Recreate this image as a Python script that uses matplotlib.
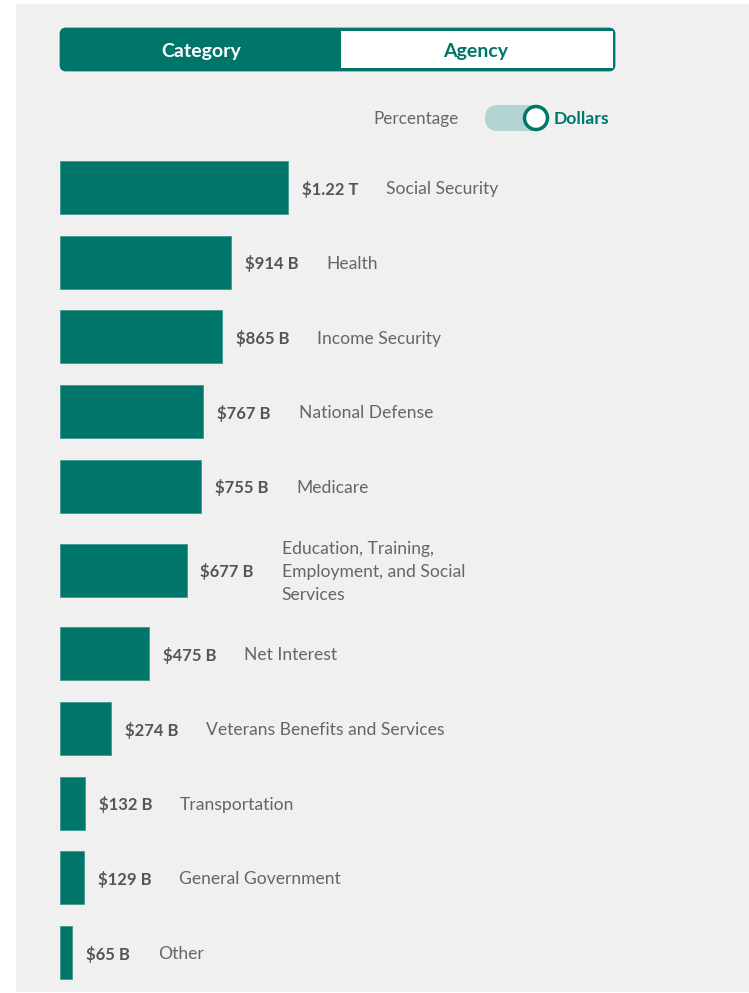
import matplotlib.pyplot as plt
from matplotlib.patches import FancyBboxPatch, Rectangle, Circle

# Gasto federal por categoria (miles de millones de dolares)
categorias = ["Social Security", "Health", "Income Security", "National Defense", "Medicare",
              "Education, Training,\nEmployment, and Social\nServices", "Net Interest",
              "Veterans Benefits and Services", "Transportation", "General Government", "Other"]
montos = [1220, 914, 865, 767, 755, 677, 475, 274, 132, 129, 65]
etiquetas = ["$1.22 T", "$914 B", "$865 B", "$767 B", "$755 B", "$677 B",
             "$475 B", "$274 B", "$132 B", "$129 B", "$65 B"]

VERDE = "#00766b"
GRIS_FONDO = "#f0f0f0"
FUENTE = "Lato"
W, H = 749, 993

fig = plt.figure(figsize=(W / 100, H / 100), dpi=100)
fig.patch.set_facecolor("white")

# Ejes de fondo en pixeles (y hacia abajo) para el panel y los botones
fondo = fig.add_axes([0, 0, 1, 1])
fondo.set_xlim(0, W)
fondo.set_ylim(H, 0)
fondo.axis("off")
fondo.add_patch(Rectangle((16, 4), W - 16, H - 5, facecolor=GRIS_FONDO, edgecolor="none"))

# Selector Category / Agency
fondo.add_patch(FancyBboxPatch((61, 29), 553, 41, boxstyle="round,pad=0,rounding_size=5",
                               facecolor=VERDE, edgecolor=VERDE, lw=2))
fondo.add_patch(Rectangle((341, 31), 272, 37, facecolor="white", edgecolor="none"))
fondo.text(201, 51.5, "Category", color="white", fontsize=14, fontweight="bold",
           family=FUENTE, ha="center", va="center")
fondo.text(476, 51.5, "Agency", color=VERDE, fontsize=14, fontweight="bold",
           family=FUENTE, ha="center", va="center")

# Interruptor Percentage / Dollars
fondo.text(459, 119, "Percentage", color="#666666", fontsize=12.3, family=FUENTE,
           ha="right", va="center")
fondo.add_patch(FancyBboxPatch((485, 105), 63, 26, boxstyle="round,pad=0,rounding_size=13",
                               facecolor="#b2d5d1", edgecolor="none"))
fondo.add_patch(Circle((536, 118), 11.5, facecolor="white", edgecolor=VERDE, lw=2.5))
fondo.text(554, 119, "Dollars", color=VERDE, fontsize=12.6, fontweight="bold",
           family=FUENTE, ha="left", va="center")

# Posicion vertical de cada fila: las etiquetas de varias lineas ocupan mas espacio
extra = [c.count("\n") for c in categorias]
centros = [187.5]
for i in range(1, len(categorias)):
    centros.append(centros[-1] + 74.7 + 4.5 * (extra[i - 1] + extra[i]))

# Ejes de las barras: 1220 B ocupa 228 px desde x = 60
ax = fig.add_axes([60 / W, 0, (W - 60) / W, 1])
ax.patch.set_alpha(0)
ax.set_xlim(0, 1220 * (W - 60) / 228)
ax.set_ylim(H, 0)
ax.axis("off")

ax.barh(centros, montos, height=53, color=VERDE, edgecolor="#3f9990", linewidth=0.6)

for y, m, et, cat in zip(centros, montos, etiquetas, categorias):
    valor = ax.annotate(et, xy=(m, y), xytext=(10, -1.2), textcoords="offset points",
                        ha="left", va="center", fontsize=12, fontweight="bold",
                        color="#555555", family=FUENTE)
    ax.annotate(cat, xy=(1, 0.5), xycoords=valor, xytext=(20, 0),
                textcoords="offset points", ha="left", va="center", fontsize=12.6,
                color="#666666", family=FUENTE, linespacing=1.55)

fig.savefig("out.png", dpi=100, facecolor=fig.get_facecolor())
